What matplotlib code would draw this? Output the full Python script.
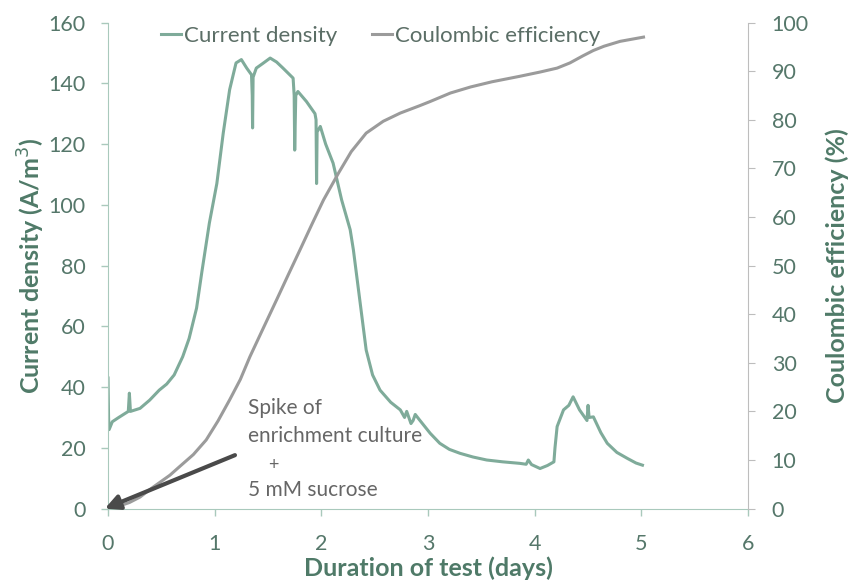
import numpy as np
import matplotlib.pyplot as plt

# current density trace (A/m3)
cd_days = [0.0, 0.005, 0.01, 0.04, 0.1, 0.19, 0.2, 0.21, 0.3, 0.39, 0.48, 0.55, 0.62,
           0.70, 0.76, 0.83, 0.88, 0.95, 1.02, 1.08, 1.14, 1.20, 1.25, 1.30,
           1.345, 1.352, 1.355, 1.36, 1.39, 1.45, 1.52, 1.58, 1.64, 1.735,
           1.745, 1.75, 1.76, 1.78, 1.86, 1.94, 1.95, 1.955, 1.96, 1.99, 2.04, 2.11,
           2.19, 2.27, 2.30, 2.36, 2.42, 2.48, 2.55, 2.65, 2.74, 2.78, 2.80, 2.84,
           2.86, 2.88, 2.92, 3.02, 3.11, 3.20, 3.30, 3.42, 3.55, 3.70, 3.86, 3.92,
           3.94, 3.97, 4.05, 4.12, 4.18, 4.19, 4.21, 4.27, 4.32, 4.36, 4.42, 4.49,
           4.50, 4.51, 4.55, 4.62, 4.68, 4.77, 4.87, 4.95, 5.01]
cd_vals = [43, 30, 26, 28.6, 30, 32, 38, 32, 33, 35.7, 39, 41, 44,
           50, 56, 66, 78, 94, 107, 123.6, 137.9, 146.7, 147.8, 145,
           142.8, 136, 125.3, 142, 145, 146.5, 148.3, 147, 145, 141.7,
           136, 118, 136, 137.3, 134, 130, 128, 107, 124, 125.8, 120, 113.7,
           101.6, 91.8, 85.2, 68.7, 52.2, 44, 39, 35, 32.5, 30, 32, 28,
           29, 31, 29.2, 24.8, 21.5, 19.5, 18.2, 17, 16, 15.4, 14.9, 14.6,
           16, 14.5, 13.2, 14.2, 15.4, 20, 27, 32.5, 34, 36.8, 32.5, 29,
           34, 30, 30.2, 25, 21.5, 18.5, 16.5, 15, 14.3]

# coulombic efficiency trace, in left-axis units
ce_days = [0.0, 0.1, 0.2, 0.3, 0.4, 0.48, 0.58, 0.67, 0.8, 0.92, 1.03, 1.14, 1.24,
           1.33, 1.45, 1.58, 1.69, 1.80, 1.91, 2.02, 2.16, 2.28, 2.42, 2.58, 2.74,
           2.92, 3.02, 3.21, 3.40, 3.60, 3.86, 4.05, 4.21, 4.33, 4.45, 4.55, 4.65,
           4.80, 5.02]
ce_vals = [0, 0.8, 2, 3.8, 6.5, 8.5, 11, 13.8, 17.8, 22.6, 28.8, 35.8, 42.5,
           50, 59, 68.7, 77, 85.2, 93.5, 101.6, 110.4, 117.5, 123.6, 127.5, 130.2,
           132.6, 134, 136.8, 138.8, 140.5, 142.3, 143.7, 145, 146.7, 149, 150.8, 152.2,
           153.8, 155.2]

plt.rcParams['font.family'] = ['Lato', 'DejaVu Sans']

green = '#7fab9a'
gray = '#9b9b9b'
tick_col = '#55776a'
lab_col = '#4f7a68'

fig = plt.figure(figsize=(8.52, 5.88), dpi=100)
ax = fig.add_axes([0.1268, 0.135, 0.7512, 0.8267])

ax.plot(cd_days, cd_vals, color=green, lw=2.2, label='Current density')
ax.plot(ce_days, ce_vals, color=gray, lw=2.2, label='Coulombic efficiency')

ax.set_xlim(0, 6)
ax.set_ylim(0, 160)
ax.set_xticks(range(7))
ax.set_yticks(range(0, 161, 20))

ax2 = ax.twinx()
ax2.set_ylim(0, 100)
ax2.set_yticks(range(0, 101, 10))

ax.spines['top'].set_visible(False)
ax2.spines['top'].set_visible(False)
ax.spines['right'].set_visible(False)
ax2.spines['left'].set_visible(False)
ax2.spines['bottom'].set_visible(False)
ax.spines['left'].set_color('#a9c9bc')
ax.spines['bottom'].set_color('#a9c9bc')
ax2.spines['right'].set_color('#bdbdbd')

ax.tick_params(axis='both', labelsize=15.5, colors=tick_col, length=5, width=1)
ax.tick_params(axis='y', color='#a9c9bc', pad=11)
ax.tick_params(axis='x', color='#a9c9bc', pad=13)
ax2.tick_params(axis='y', labelsize=15.5, colors=tick_col, color='#bdbdbd', length=5, pad=12)

ax.set_xlabel('Duration of test (days)', fontsize=18, fontweight='bold', color=lab_col, labelpad=2)
ax.set_ylabel('Current density (A/m$^3$)', fontsize=18, fontweight='bold', color=lab_col, labelpad=1)
ax2.set_ylabel('Coulombic efficiency (%)', fontsize=18, fontweight='bold', color=lab_col, labelpad=12)

leg = ax.legend(loc='upper center', bbox_to_anchor=(0.426, 1.035), ncol=2, frameon=False,
                fontsize=16, handlelength=0.9, handletextpad=0.1, columnspacing=1.6)
for t in leg.get_texts():
    t.set_color('#5b6e66')

ax.annotate('', xy=(-0.03, 0.0), xytext=(1.19, 17.6), annotation_clip=False,
            arrowprops=dict(arrowstyle='-|>', color='#4a4a4a', lw=3,
                            mutation_scale=22, shrinkA=0, shrinkB=0))
txt = dict(fontsize=15, color='#666666', va='center', ha='left')
ax.text(1.313, 33.1, 'Spike of', **txt)
ax.text(1.313, 23.9, 'enrichment culture', **txt)
ax.text(1.554, 14.3, '+', fontsize=13, color='#666666', ha='center', va='center')
ax.text(1.313, 6.1, '5 mM sucrose', **txt)

fig.savefig('out.png', dpi=100)
